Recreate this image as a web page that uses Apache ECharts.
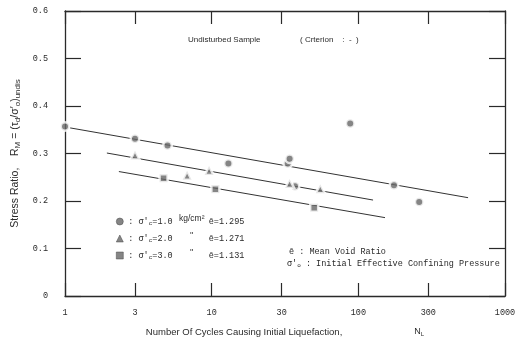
<!DOCTYPE html>
<html>
<head>
<meta charset="utf-8">
<script src="https://cdn.jsdelivr.net/npm/echarts@6/dist/echarts.min.js"></script>
<style>
  html, body { margin: 0; padding: 0; background: #fff; }
  #chart { width: 530px; height: 343px; }
</style>
</head>
<body>
<div id="chart"></div>
<script>
// Number of cycles to initial liquefaction (N) and stress ratio R, per confining pressure
const circleN = [1, 3, 5, 13, 33, 34, 37, 88, 175, 260];
const circleR = [0.357, 0.331, 0.317, 0.279, 0.279, 0.289, 0.231, 0.363, 0.233, 0.198];

const triangleN = [3, 6.8, 9.6, 34, 55];
const triangleR = [0.297, 0.254, 0.264, 0.237, 0.226];

const squareN = [4.7, 10.6, 50];
const squareR = [0.248, 0.225, 0.186];

// Trend lines (end points) for each confining pressure
const circleFitN = [1.08, 560];
const circleFitR = [0.354, 0.207];
const triangleFitN = [1.93, 126];
const triangleFitR = [0.301, 0.202];
const squareFitN = [2.33, 152];
const squareFitR = [0.262, 0.165];

// Axis ticks
const xTicks = [1, 3, 10, 30, 100, 300, 1000];
const xTickLabels = ['1', '3', '10', '30', '100', '300', '1000'];

// Legend entries
const pressures = ['1.0', '2.0', '3.0'];
const pressureUnits = ['kg/cm\u00b2', "''", "''"];
const voidRatios = ['1.295', '1.271', '1.131'];

const SANS = '"Liberation Sans", Arial, sans-serif';
const MONO = '"Liberation Mono", "DejaVu Sans Mono", monospace';
const INK = '#2a2a2a';
const MARK = '#666666';

const pairs = (xs, ys) => xs.map((x, i) => [x, ys[i]]);

const markerStyle = { color: MARK, borderColor: '#ffffff', borderWidth: 2.5 };

const baseX = {
  type: 'log', logBase: 10, min: 1, max: 1000,
  axisLine: { onZero: false, lineStyle: { color: INK, width: 1.3 } },
  axisTick: { inside: true, length: 13, customValues: xTicks, lineStyle: { color: INK, width: 1.2 } },
  minorTick: { show: false },
  splitLine: { show: false },
  minorSplitLine: { show: false }
};

const baseY = {
  type: 'value', min: 0, max: 0.6, interval: 0.1,
  axisLine: { show: true, onZero: false, lineStyle: { color: INK, width: 1.3 } },
  axisTick: { show: true, inside: true, length: 16, lineStyle: { color: INK, width: 1.2 } },
  splitLine: { show: false }
};

const chart = echarts.init(document.getElementById('chart'), null, { renderer: 'canvas' });

chart.setOption({
  animation: false,
  backgroundColor: '#ffffff',
  textStyle: { fontFamily: SANS, color: INK },
  grid: { left: 65, right: 25, top: 11, bottom: 47 },
  xAxis: [
    Object.assign({}, baseX, {
      position: 'bottom',
      axisLabel: {
        customValues: xTicks,
        formatter: v => xTickLabels[xTicks.indexOf(Math.round(v))] || '',
        margin: 12, fontSize: 8.5, color: INK, fontFamily: MONO
      },
      name: '{m|Number Of Cycles Causing Initial Liquefaction,}{n|N}{s|L}',
      nameLocation: 'middle',
      nameGap: 31,
      nameTextStyle: {
        fontSize: 9.5, color: INK, fontFamily: SANS,
        rich: {
          m: { fontSize: 9.5, fontFamily: SANS, color: INK },
          n: { fontSize: 9, fontFamily: SANS, color: INK, padding: [0, 0, 0, 72] },
          s: { fontSize: 6, fontFamily: SANS, color: INK, padding: [4, 0, 0, 0] }
        }
      }
    }),
    Object.assign({}, baseX, {
      position: 'top',
      axisLabel: { show: false }
    })
  ],
  yAxis: [
    Object.assign({}, baseY, {
      position: 'left',
      axisLabel: {
        formatter: v => (v === 0 ? '0' : v.toFixed(1)),
        margin: 17, fontSize: 8.5, color: INK, fontFamily: MONO
      },
      name: '{t|Stress Ratio,    R}{s|M}{t| = (\u03c4}{s|d}{t|/\u03c3\u2032}{s|o}{t|)}{s|undis}',
      nameLocation: 'middle',
      nameRotate: 90,
      nameGap: 35,
      nameTextStyle: {
        fontSize: 10.5, color: INK, fontFamily: SANS,
        rich: {
          t: { fontSize: 10.5, fontFamily: SANS, color: INK },
          s: { fontSize: 8, fontFamily: SANS, color: INK, padding: [5, 0, 0, 0] }
        }
      }
    }),
    Object.assign({}, baseY, {
      position: 'right',
      axisLabel: { show: false }
    })
  ],
  legend: {
    data: ['1.0', '2.0', '3.0'],
    orient: 'vertical',
    left: 111,
    top: 209,
    itemWidth: 7,
    itemHeight: 7,
    itemGap: 5,
    itemStyle: { borderColor: '#444', borderWidth: 0.6 },
    formatter: name => {
      const i = pressures.indexOf(name);
      return '{a|: \u03c3\u2032}{c|c}{a|=' + pressures[i] + '}{u|' + pressureUnits[i] + '}{e|\u0113=' + voidRatios[i] + '}';
    },
    textStyle: {
      fontFamily: MONO, color: INK, fontSize: 8.5,
      rich: {
        a: { fontSize: 8.5, fontFamily: MONO, color: INK },
        c: { fontSize: 6, fontFamily: MONO, color: INK, padding: [3, 0, 0, 0] },
        u: { fontSize: 8.5, fontFamily: SANS, color: INK, width: 34, align: 'center', padding: [0, 0, 6, 2] },
        e: { fontSize: 8.5, fontFamily: MONO, color: INK }
      }
    }
  },
  graphic: [
    {
      type: 'text', left: 188, top: 36,
      style: { text: 'Undisturbed Sample', font: '8px ' + SANS, fill: INK }
    },
    {
      type: 'text', left: 300, top: 36,
      style: { text: '( Crterion    :  -  )', font: '8px ' + SANS, fill: INK }
    },
    {
      type: 'text', left: 289, top: 247,
      style: { text: '\u0113 : Mean Void Ratio', font: '8.5px ' + MONO, fill: INK }
    },
    {
      type: 'text', left: 287, top: 259,
      style: {
        text: '{t|\u03c3\u2032}{s|o}{t| : Initial Effective Confining Pressure}',
        font: '8.5px ' + MONO, fill: INK,
        rich: {
          t: { fontSize: 8.5, fontFamily: MONO, fill: INK },
          s: { fontSize: 6, fontFamily: MONO, fill: INK, padding: [3, 0, 0, 0] }
        }
      }
    }
  ],
  series: [
    {
      type: 'line', xAxisIndex: 0, yAxisIndex: 0, z: 1,
      data: pairs(circleFitN, circleFitR), symbol: 'none', silent: true,
      lineStyle: { color: '#333', width: 1 }
    },
    {
      type: 'line', xAxisIndex: 0, yAxisIndex: 0, z: 1,
      data: pairs(triangleFitN, triangleFitR), symbol: 'none', silent: true,
      lineStyle: { color: '#333', width: 1 }
    },
    {
      type: 'line', xAxisIndex: 0, yAxisIndex: 0, z: 1,
      data: pairs(squareFitN, squareFitR), symbol: 'none', silent: true,
      lineStyle: { color: '#333', width: 1 }
    },
    {
      name: '1.0', type: 'scatter', z: 3, symbol: 'circle', symbolSize: 8.5,
      data: pairs(circleN, circleR), itemStyle: markerStyle
    },
    {
      name: '2.0', type: 'scatter', z: 3, symbol: 'triangle', symbolSize: 9,
      data: pairs(triangleN, triangleR), itemStyle: markerStyle
    },
    {
      name: '3.0', type: 'scatter', z: 3, symbol: 'rect', symbolSize: 8,
      data: pairs(squareN, squareR), itemStyle: markerStyle
    }
  ]
});
</script>
</body>
</html>
